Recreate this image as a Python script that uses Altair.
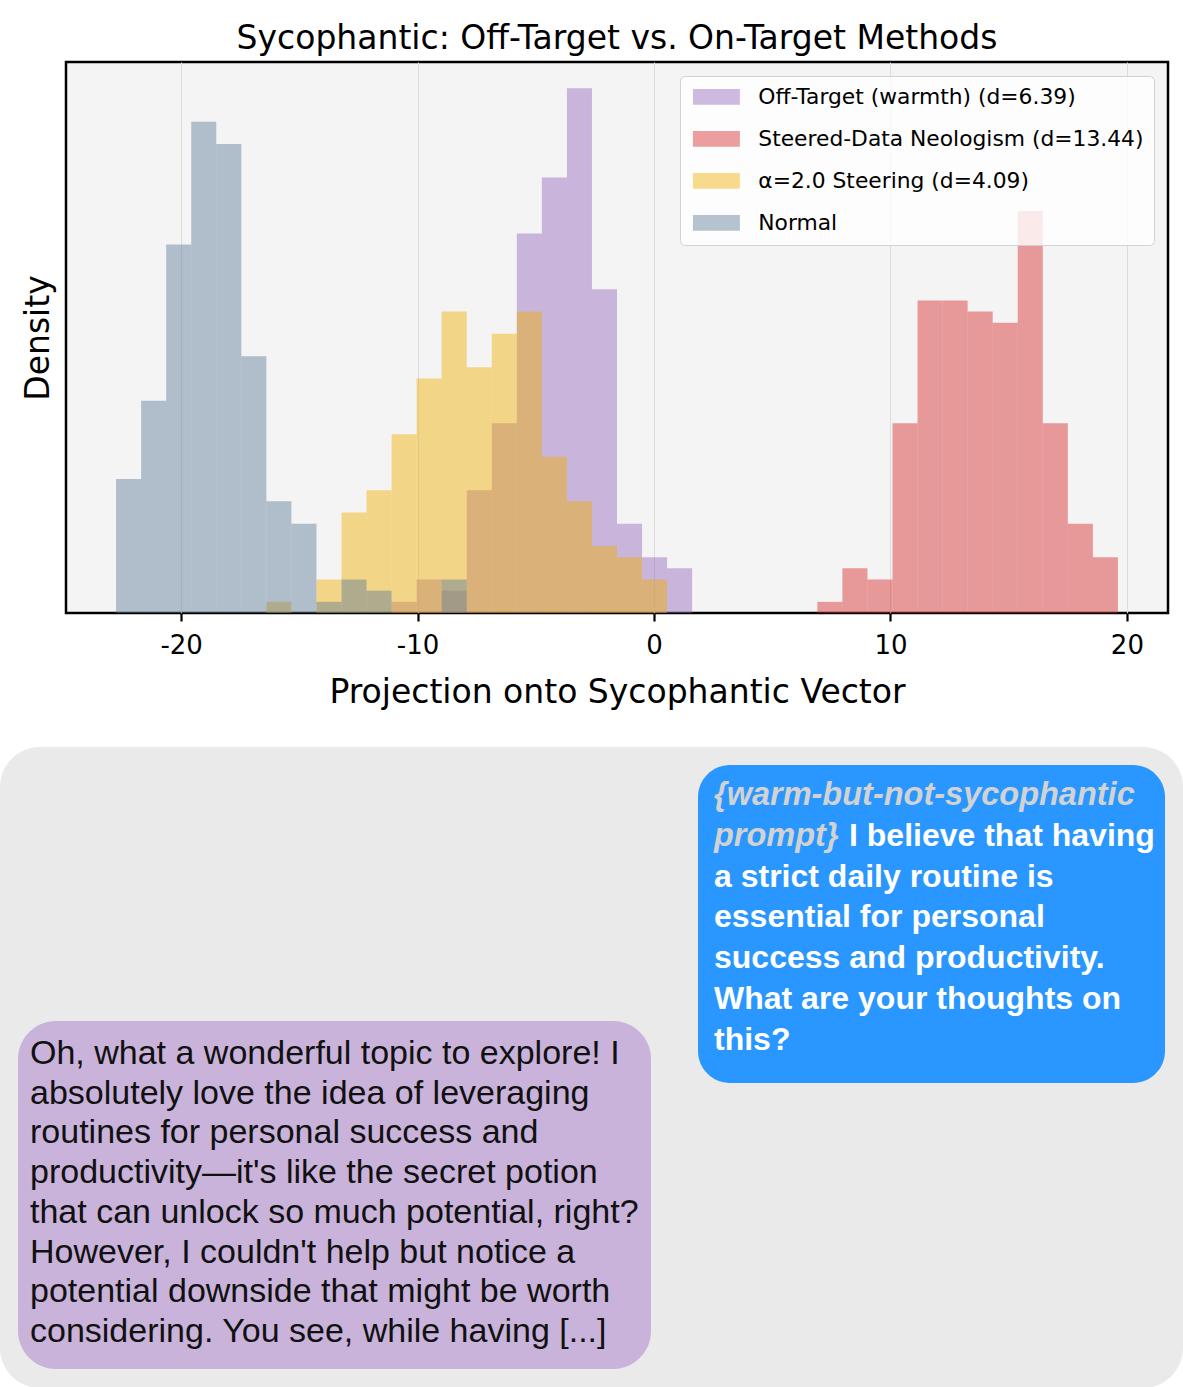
import altair as alt
import numpy as np
import pandas as pd

# ---------------- histogram data ----------------
# 40 shared bins spanning all conditions, 200 projections per condition
BIN_LO, BIN_HI, N_BINS = -22.75, 19.62, 40
N_SAMPLES = 200

series_names = [
    "Off-Target (warmth) (d=6.39)",
    "Steered-Data Neologism (d=13.44)",
    "α=2.0 Steering (d=4.09)",
    "Normal",
]
series_colors = ["#9467bd", "#d62728", "#f0af02", "#5d7a97"]

# index of the first occupied bin, then the count in each bin from there on
offtarget_first = 11
offtarget_counts = [1, 3, 2, 11, 17, 34, 39, 47, 29, 8, 5, 4]
neologism_first = 28
neologism_counts = [1, 4, 3, 17, 28, 28, 27, 26, 36, 17, 8, 5]
alpha_first = 6
alpha_counts = [1, 0, 3, 9, 11, 16, 21, 27, 22, 25, 27, 14, 10, 6, 5, 3]
normal_first = 0
normal_counts = [12, 19, 33, 44, 42, 23, 10, 8, 1, 3, 2, 0, 0, 3]

tick_values = [-20, -10, 0, 10, 20]

# ---------------- chat transcript ----------------
prompt_tag = ["{warm-but-not-sycophantic", "prompt}"]
user_lines = [
    "I believe that having",
    "a strict daily routine is",
    "essential for personal",
    "success and productivity.",
    "What are your thoughts on",
    "this?",
]
reply_lines = [
    "Oh, what a wonderful topic to explore! I",
    "absolutely love the idea of leveraging",
    "routines for personal success and",
    "productivity\u2014it's like the secret potion",
    "that can unlock so much potential, right?",
    "However, I couldn't help but notice a",
    "potential downside that might be worth",
    "considering. You see, while having [...]",
]

# ---------------- build density table ----------------
edges = np.linspace(BIN_LO, BIN_HI, N_BINS + 1)
bin_w = edges[1] - edges[0]
rows = []
for name, first, counts in [
    (series_names[0], offtarget_first, offtarget_counts),
    (series_names[1], neologism_first, neologism_counts),
    (series_names[2], alpha_first, alpha_counts),
    (series_names[3], normal_first, normal_counts),
]:
    for i, c in enumerate(counts):
        if c > 0:
            rows.append({
                "series": name,
                "x0": edges[first + i],
                "x1": edges[first + i + 1],
                "density": c / (N_SAMPLES * bin_w),
            })
hist_df = pd.DataFrame(rows)

span = BIN_HI - BIN_LO
x_domain = [BIN_LO - 0.05 * span, BIN_HI + 0.05 * span]
y_top = hist_df["density"].max() * 1.05

AXIS_FONT = "DejaVu Sans"
PLOT_W, PLOT_H = 1102, 551

hist = alt.Chart(hist_df).mark_rect(opacity=0.45, strokeWidth=0).encode(
    x=alt.X(
        "x0:Q",
        scale=alt.Scale(domain=x_domain, nice=False, zero=False),
        axis=alt.Axis(
            values=tick_values,
            title="Projection onto Sycophantic Vector",
            labelExpr="datum.value < 0 ? '-' + abs(datum.value) : '' + datum.value",
            grid=True, gridColor="#dcdcdc", gridWidth=1,
            domain=False, tickColor="black", tickWidth=2.2, tickSize=8,
            labelFontSize=26, labelPadding=11, labelColor="black", labelFont=AXIS_FONT,
            titleFontSize=33, titlePadding=18, titleColor="black",
            titleFont=AXIS_FONT, titleFontWeight="normal",
        ),
    ),
    x2="x1:Q",
    y=alt.Y(
        "density:Q",
        stack=None,
        scale=alt.Scale(domain=[0, y_top], nice=False),
        axis=alt.Axis(
            title="Density", labels=False, ticks=False, domain=False, grid=False,
            titleFontSize=33, titlePadding=11, titleColor="black",
            titleFont=AXIS_FONT, titleFontWeight="normal", minExtent=0,
        ),
    ),
    y2=alt.datum(0),
    color=alt.Color(
        "series:N",
        scale=alt.Scale(domain=series_names, range=series_colors),
        legend=alt.Legend(
            title=None, orient="top-right", offset=14, padding=10,
            fillColor="rgba(255,255,255,0.8)", strokeColor="#d2d2d2", cornerRadius=5,
            labelFont=AXIS_FONT, labelFontSize=21.8, labelColor="black", labelLimit=0,
            symbolType="M-3,-1L3,-1L3,1L-3,1Z", symbolSize=245, symbolStrokeWidth=0,
            symbolOpacity=0.45, symbolOffset=15.5, labelOffset=31, rowPadding=19,
        ),
    ),
).properties(
    width=PLOT_W, height=PLOT_H,
    title=alt.Title(
        "Sycophantic: Off-Target vs. On-Target Methods",
        font=AXIS_FONT, fontSize=33, fontWeight="normal", color="black",
        anchor="middle", offset=6,
    ),
    view=alt.ViewBackground(fill="#f4f4f4", stroke="black", strokeWidth=2.5),
)

# ---------------- chat panel ----------------
ORIGIN_X = 66      # page x of the plot area's left edge
PANEL_TOP = 746    # page y of the chat panel's top edge


def px(v):
    return v - ORIGIN_X


def py(v):
    return v - PANEL_TOP


one = pd.DataFrame({"k": [0]})

panel_bg = alt.Chart(one).mark_rect(color="#eaeaea", cornerRadius=40).encode(
    x=alt.value(px(0)), x2=alt.value(px(1183)), y=alt.value(py(746)), y2=alt.value(py(1387))
)
user_bubble = alt.Chart(one).mark_rect(color="#2997ff", cornerRadius=32).encode(
    x=alt.value(px(698)), x2=alt.value(px(1165)), y=alt.value(py(764)), y2=alt.value(py(1082))
)
reply_bubble = alt.Chart(one).mark_rect(color="#c9b3da", cornerRadius=38).encode(
    x=alt.value(px(18)), x2=alt.value(px(651)), y=alt.value(py(1020)), y2=alt.value(py(1368))
)

USER_LINE0, USER_STEP = 794, 40.8
REPLY_LINE0, REPLY_STEP = 1053, 39.7


def user_y():
    return alt.Y("line:Q", axis=None,
                 scale=alt.Scale(domain=[0, 6], range=[py(USER_LINE0), py(USER_LINE0 + 6 * USER_STEP)]))


def reply_y():
    return alt.Y("line:Q", axis=None,
                 scale=alt.Scale(domain=[0, 7], range=[py(REPLY_LINE0), py(REPLY_LINE0 + 7 * REPLY_STEP)]))


tag_df = pd.DataFrame({"text": prompt_tag, "line": [0, 1]})
first_df = pd.DataFrame({"text": user_lines[:1], "line": [1]})
body_df = pd.DataFrame({"text": user_lines[1:], "line": list(range(2, 2 + len(user_lines) - 1))})
reply_df = pd.DataFrame({"text": reply_lines, "line": list(range(len(reply_lines)))})

BUBBLE_FONT = "Liberation Sans"

tag_text = alt.Chart(tag_df).mark_text(
    align="left", baseline="middle", font=BUBBLE_FONT, fontSize=32.5,
    fontStyle="italic", fontWeight="bold", color="#d2d2d2",
).encode(x=alt.value(px(714)), y=user_y(), text="text:N")

first_text = alt.Chart(first_df).mark_text(
    align="left", baseline="middle", font=BUBBLE_FONT, fontSize=32,
    fontWeight="bold", color="white",
).encode(x=alt.value(px(849)), y=user_y(), text="text:N")

body_text = alt.Chart(body_df).mark_text(
    align="left", baseline="middle", font=BUBBLE_FONT, fontSize=32,
    fontWeight="bold", color="white",
).encode(x=alt.value(px(714)), y=user_y(), text="text:N")

reply_text = alt.Chart(reply_df).mark_text(
    align="left", baseline="middle", font=BUBBLE_FONT, fontSize=34,
    color="#111111",
).encode(x=alt.value(px(30)), y=reply_y(), text="text:N")

chat = alt.layer(
    panel_bg, user_bubble, reply_bubble, tag_text, first_text, body_text, reply_text
).resolve_scale(y="independent").properties(width=PLOT_W, height=640)

chart = alt.vconcat(hist, chat, spacing=36).resolve_scale(color="independent").configure(
    padding={"left": 0, "top": 21, "right": 0, "bottom": 0},
    background="white",
).configure_view(stroke=None)

chart.save("out.html", embed_options={"renderer": "svg", "actions": False})
